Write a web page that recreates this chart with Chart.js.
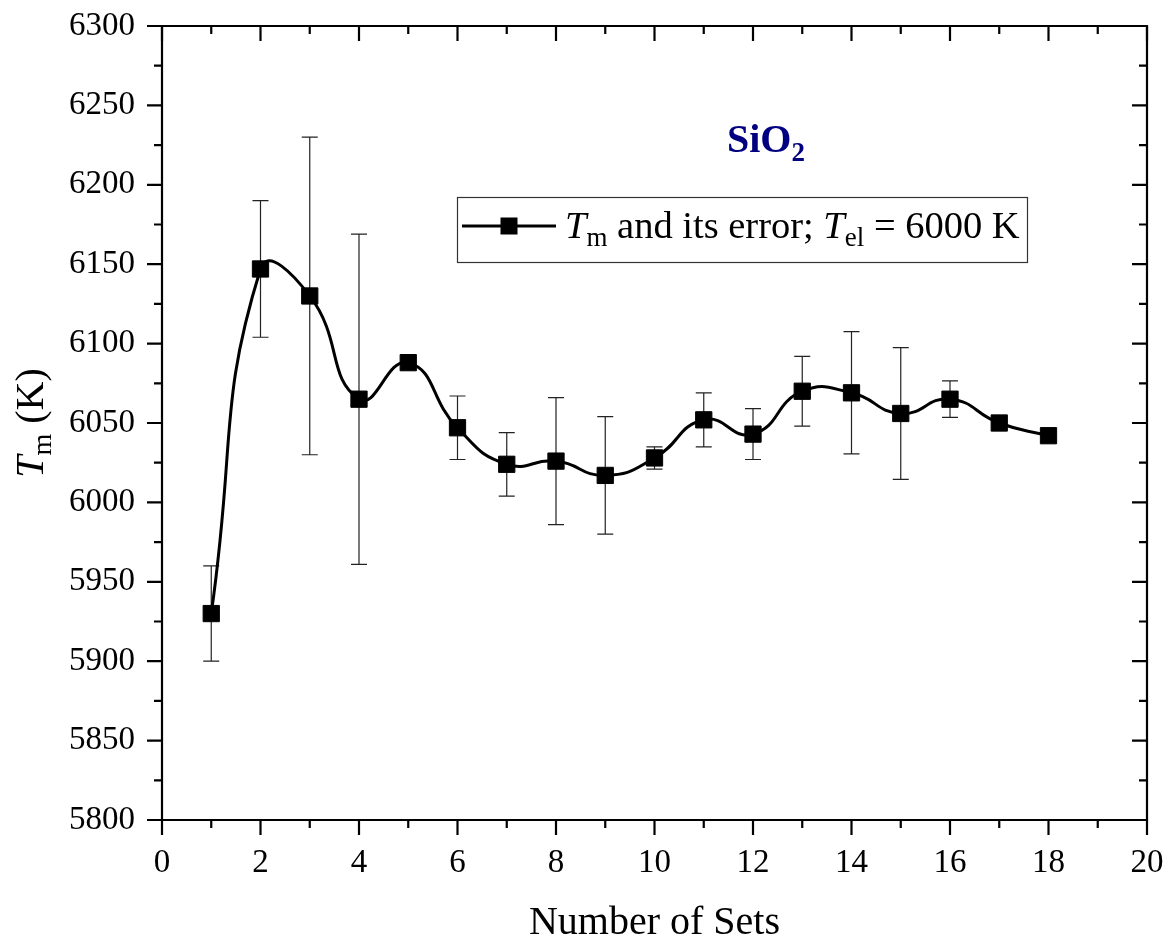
<!DOCTYPE html>
<html>
<head>
<meta charset="utf-8">
<script src="https://cdn.jsdelivr.net/npm/chart.js@4.4.1/dist/chart.umd.min.js"></script>
<style>
  html, body { margin: 0; padding: 0; background: #fff; }
  #wrap { width: 1169px; height: 942px; position: relative; }
</style>
</head>
<body>
<div id="wrap"><canvas id="c" width="1169" height="942"></canvas></div>
<script>
// ---- data ----
const numberOfSets = [1, 2, 3, 4, 5, 6, 7, 8, 9, 10, 11, 12, 13, 14, 15, 16, 17, 18];
const tmValues     = [5930, 6147, 6130, 6065, 6088, 6047, 6024, 6026, 6017, 6028, 6052, 6043, 6070, 6069, 6056, 6065, 6050, 6042];
const tmErrors     = [30, 43, 100, 104, 0, 20, 20, 40, 37, 7, 17, 16, 22, 38.5, 41.5, 11.5, 0, 0];
const xTicks = [0, 2, 4, 6, 8, 10, 12, 14, 16, 18, 20];
const yTicks = [5800, 5850, 5900, 5950, 6000, 6050, 6100, 6150, 6200, 6250, 6300];
const xMinorTicks = [1, 3, 5, 7, 9, 11, 13, 15, 17, 19];
const yMinorTicks = [5825, 5875, 5925, 5975, 6025, 6075, 6125, 6175, 6225, 6275];

const SERIF = "'Liberation Serif', 'Times New Roman', serif";

function drawRich(ctx, segs, x, y, align) {
  let total = 0;
  const widths = segs.map(s => {
    ctx.font = (s.italic ? 'italic ' : '') + (s.bold ? 'bold ' : '') + s.size + 'px ' + SERIF;
    const w = ctx.measureText(s.t).width;
    total += w;
    return w;
  });
  let cx = align === 'center' ? x - total / 2 : (align === 'right' ? x - total : x);
  segs.forEach((s, i) => {
    ctx.font = (s.italic ? 'italic ' : '') + (s.bold ? 'bold ' : '') + s.size + 'px ' + SERIF;
    ctx.fillStyle = s.color || '#000';
    ctx.textBaseline = 'alphabetic';
    ctx.textAlign = 'left';
    ctx.fillText(s.t, cx, y + (s.sub || 0));
    cx += widths[i];
  });
  return total;
}

const errorBarPlugin = {
  id: 'errorBars',
  beforeDatasetsDraw(chart) {
    const ctx = chart.ctx;
    const xs = chart.scales.x, ys = chart.scales.y;
    ctx.save();
    ctx.strokeStyle = '#222';
    ctx.lineWidth = 1.2;
    numberOfSets.forEach((xv, i) => {
      const e = tmErrors[i];
      if (!e) return;
      const px = xs.getPixelForValue(xv);
      const top = ys.getPixelForValue(tmValues[i] + e);
      const bot = ys.getPixelForValue(tmValues[i] - e);
      ctx.beginPath();
      ctx.moveTo(px, top); ctx.lineTo(px, bot);
      ctx.moveTo(px - 8, top); ctx.lineTo(px + 8, top);
      ctx.moveTo(px - 8, bot); ctx.lineTo(px + 8, bot);
      ctx.stroke();
    });
    ctx.restore();
  }
};

const framePlugin = {
  id: 'frame',
  afterDraw(chart) {
    const ctx = chart.ctx;
    const a = chart.chartArea;
    const xs = chart.scales.x, ys = chart.scales.y;
    ctx.save();
    ctx.strokeStyle = '#000';
    ctx.lineWidth = 2.2;
    ctx.beginPath();
    ctx.rect(a.left, a.top, a.right - a.left, a.bottom - a.top);
    ctx.stroke();
    const MAJ = 15, MIN = 8;
    ctx.beginPath();
    xTicks.forEach(v => {
      const p = xs.getPixelForValue(v);
      ctx.moveTo(p, a.bottom); ctx.lineTo(p, a.bottom + MAJ);
      ctx.moveTo(p, a.top); ctx.lineTo(p, a.top + MAJ);
    });
    xMinorTicks.forEach(v => {
      const p = xs.getPixelForValue(v);
      ctx.moveTo(p, a.bottom); ctx.lineTo(p, a.bottom + MIN);
      ctx.moveTo(p, a.top); ctx.lineTo(p, a.top + MIN);
    });
    yTicks.forEach(v => {
      const p = ys.getPixelForValue(v);
      ctx.moveTo(a.left, p); ctx.lineTo(a.left - MAJ, p);
      ctx.moveTo(a.right, p); ctx.lineTo(a.right - MAJ, p);
    });
    yMinorTicks.forEach(v => {
      const p = ys.getPixelForValue(v);
      ctx.moveTo(a.left, p); ctx.lineTo(a.left - MIN, p);
      ctx.moveTo(a.right, p); ctx.lineTo(a.right - MIN, p);
    });
    ctx.stroke();

    // x axis title
    drawRich(ctx, [{ t: 'Number of Sets', size: 40 }], (a.left + a.right) / 2, 934, 'center');

    // y axis title (rotated)
    ctx.save();
    ctx.translate(43, (a.top + a.bottom) / 2);
    ctx.rotate(-Math.PI / 2);
    drawRich(ctx, [
      { t: 'T', size: 40, italic: true },
      { t: 'm', size: 28, sub: 8 },
      { t: ' (K)', size: 40 }
    ], 0, 0, 'center');
    ctx.restore();

    // SiO2 label
    drawRich(ctx, [
      { t: 'SiO', size: 40, bold: true, color: '#000080' },
      { t: '2', size: 27, bold: true, sub: 9, color: '#000080' }
    ], 766, 152, 'center');

    // legend box
    ctx.lineWidth = 1.2;
    ctx.strokeStyle = '#333';
    ctx.strokeRect(457.5, 197.5, 570, 65);
    ctx.lineWidth = 3;
    ctx.strokeStyle = '#000';
    ctx.beginPath();
    ctx.moveTo(462, 226); ctx.lineTo(556, 226);
    ctx.stroke();
    ctx.fillStyle = '#000';
    ctx.fillRect(509 - 8.5, 226 - 8.5, 17, 17);
    drawRich(ctx, [
      { t: 'T', size: 38.5, italic: true },
      { t: 'm', size: 27, sub: 8 },
      { t: ' and its error; ', size: 38.5 },
      { t: 'T', size: 38.5, italic: true },
      { t: 'el', size: 27, sub: 8 },
      { t: ' = 6000 K', size: 38.5 }
    ], 565, 238, 'left');
    ctx.restore();
  }
};

const ctx = document.getElementById('c').getContext('2d');
new Chart(ctx, {
  type: 'line',
  data: {
    datasets: [{
      label: 'Tm and its error; Tel = 6000 K',
      data: numberOfSets.map((x, i) => ({ x: x, y: tmValues[i] })),
      borderColor: '#000',
      backgroundColor: '#000',
      borderWidth: 3,
      tension: 0.5,
      pointStyle: 'rect',
      pointRadius: 11.5,
      pointBorderWidth: 1,
      pointBackgroundColor: '#000',
      pointBorderColor: '#000',
      fill: false
    }]
  },
  options: {
    responsive: false,
    animation: false,
    devicePixelRatio: 1,
    layout: { padding: { left: 0, top: 26, right: 22, bottom: 0 } },
    plugins: { legend: { display: false }, tooltip: { enabled: false } },
    scales: {
      x: {
        type: 'linear',
        min: 0, max: 20,
        afterFit(s) { s.height = 122; s.paddingLeft = 0; s.paddingRight = 0; },
        afterBuildTicks(s) { s.ticks = xTicks.map(v => ({ value: v })); },
        grid: { display: false, drawTicks: false },
        border: { display: false },
        ticks: {
          color: '#000',
          font: { family: SERIF, size: 33 },
          padding: 24,
          maxRotation: 0,
          callback: v => String(v)
        }
      },
      y: {
        type: 'linear',
        min: 5800, max: 6300,
        afterFit(s) { s.width = 162; s.paddingTop = 0; s.paddingBottom = 0; },
        afterBuildTicks(s) { s.ticks = yTicks.map(v => ({ value: v })); },
        grid: { display: false, drawTicks: false },
        border: { display: false },
        ticks: {
          color: '#000',
          font: { family: SERIF, size: 33 },
          padding: 27,
          callback: v => String(v)
        }
      }
    }
  },
  plugins: [errorBarPlugin, framePlugin]
});
</script>
</body>
</html>
